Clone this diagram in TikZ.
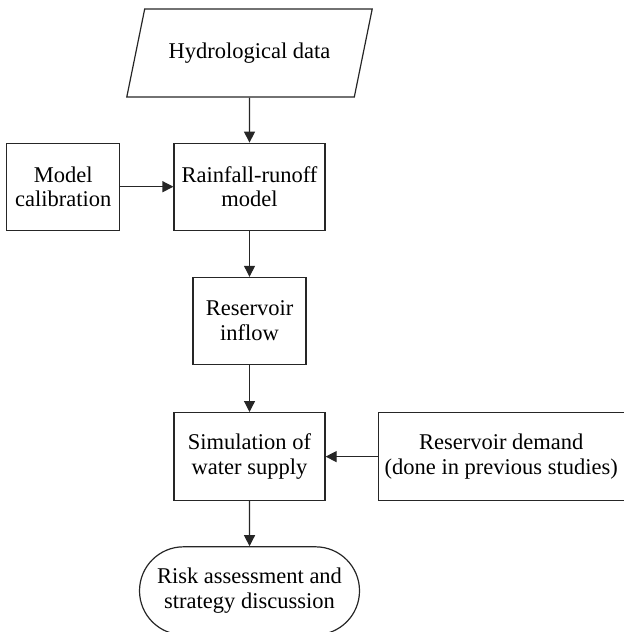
\documentclass[tikz,border=0pt]{standalone}
\usepackage{fontspec}
\setmainfont{Liberation Serif}
\usepackage{tikz}
\usetikzlibrary{arrows.meta,positioning,shapes.geometric,shapes.misc}

\begin{document}
\begin{tikzpicture}[node distance=23pt and 26pt,>={Triangle[length=5.5pt,width=5.5pt]},
  every node/.style={font=\fontsize{11.25}{12.4}\selectfont,align=center,draw=black!85,line width=0.6pt},
  proc/.style={rectangle,minimum height=43.5pt,inner sep=2pt},
  io/.style={trapezium,trapezium left angle=63,trapezium right angle=117,trapezium stretches=true,minimum width=123.5pt,minimum height=44pt,inner sep=2pt},
  term/.style={rounded rectangle,minimum width=114pt,minimum height=44pt,inner sep=2pt},
  line width=0.6pt,draw=black!85]
\useasboundingbox (-124.75pt,26.5pt) rectangle (187.25pt,-289.5pt);
\node[io] (data) {Hydrological data};
\node[proc,minimum width=75.5pt,below=22.5pt of data] (rain) {Rainfall-runoff\\model};
\node[proc,minimum width=56.5pt,left=26.5pt of rain] (calib) {Model\\calibration};
\node[proc,minimum width=56.5pt,below=of rain] (inflow) {Reservoir\\inflow};
\node[proc,minimum width=75.5pt,minimum height=44pt,below=23.5pt of inflow] (sim) {Simulation of\\water supply};
\node[proc,minimum width=123pt,minimum height=44pt,right=of sim] (demand) {Reservoir demand\\(done in previous studies)};
\node[term,below=22.5pt of sim] (risk) {Risk assessment and\\strategy discussion};
\draw[->] (data)--(rain); \draw[->] (calib)--(rain); \draw[->] (rain)--(inflow); \draw[->] (inflow)--(sim); \draw[->] (demand)--(sim); \draw[->] (sim)--(risk);
\end{tikzpicture}
\end{document}
